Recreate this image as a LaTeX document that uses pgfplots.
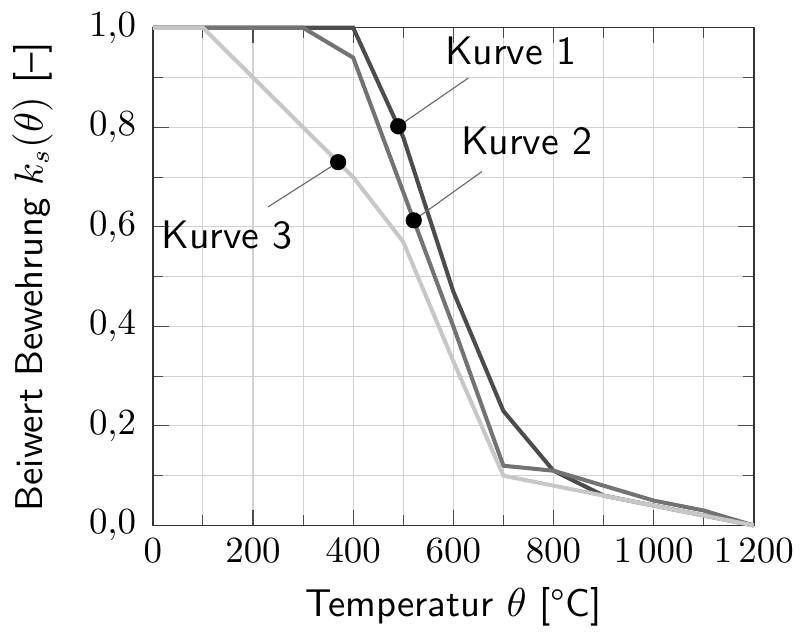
\documentclass[border=0pt]{standalone}
\usepackage{pgfplots}
\pgfplotsset{compat=1.18}
\begin{document}
\begin{tikzpicture}
\begin{axis}[
  scale only axis,
  width=163pt, height=135pt,
  xmin=0, xmax=1200, ymin=0, ymax=1,
  xtick={0,200,...,1200}, minor xtick={100,300,...,1100},
  ytick={0,0.2,...,1.0}, minor ytick={0.1,0.3,...,0.9},
  grid=both,
  major grid style={gray!35, line width=0.3pt},
  minor grid style={gray!35, line width=0.3pt},
  axis line style={black!80, line width=0.4pt},
  tick style={black!70, line width=0.3pt},
  x tick label style={/pgf/number format/1000 sep={\,}},
  y tick label style={xshift=-1pt, /pgf/number format/.cd, use comma, fixed, fixed zerofill, precision=1},
  label style={font=\fontsize{10.5}{13}\selectfont\sffamily},
  ylabel style={yshift=3pt},
  xlabel={Temperatur $\theta$ [°C]},
  ylabel={Beiwert Bewehrung $k_s(\theta)$ [--]},
  clip=false,
]
\addplot[black!70, line width=1.1pt] coordinates {(0,1) (100,1) (200,1) (300,1) (400,1) (500,0.78) (600,0.47) (700,0.23) (800,0.11) (900,0.06) (1000,0.04) (1100,0.02) (1200,0)};
\addplot[black!55, line width=1.1pt] coordinates {(0,1) (100,1) (200,1) (300,1) (400,0.94) (500,0.67) (600,0.40) (700,0.12) (800,0.11) (900,0.08) (1000,0.05) (1100,0.03) (1200,0)};
\addplot[black!22, line width=1.1pt] coordinates {(0,1) (100,1) (200,0.9) (300,0.8) (400,0.7) (500,0.57) (600,0.33) (700,0.10) (800,0.08) (900,0.06) (1000,0.04) (1100,0.02) (1200,0)};
% leader lines
\addplot[black!60, line width=0.3pt] coordinates {(490,0.802) (630,0.899)};
\addplot[black!60, line width=0.3pt] coordinates {(521,0.613) (657,0.711)};
\addplot[black!60, line width=0.3pt] coordinates {(370,0.73) (230,0.64)};
% dots
\addplot[only marks, mark=*, mark size=2pt, black] coordinates {(490,0.802) (521,0.613) (370,0.73)};
\node[anchor=base west, inner sep=0pt, font=\fontsize{10.8}{13}\selectfont\sffamily] at (axis cs:582,0.927) {Kurve 1};
\node[anchor=base west, inner sep=0pt, font=\fontsize{10.8}{13}\selectfont\sffamily] at (axis cs:614,0.745) {Kurve 2};
\node[anchor=base west, inner sep=0pt, font=\fontsize{10.8}{13}\selectfont\sffamily] at (axis cs:16,0.556) {Kurve 3};
\end{axis}
\end{tikzpicture}
\end{document}
